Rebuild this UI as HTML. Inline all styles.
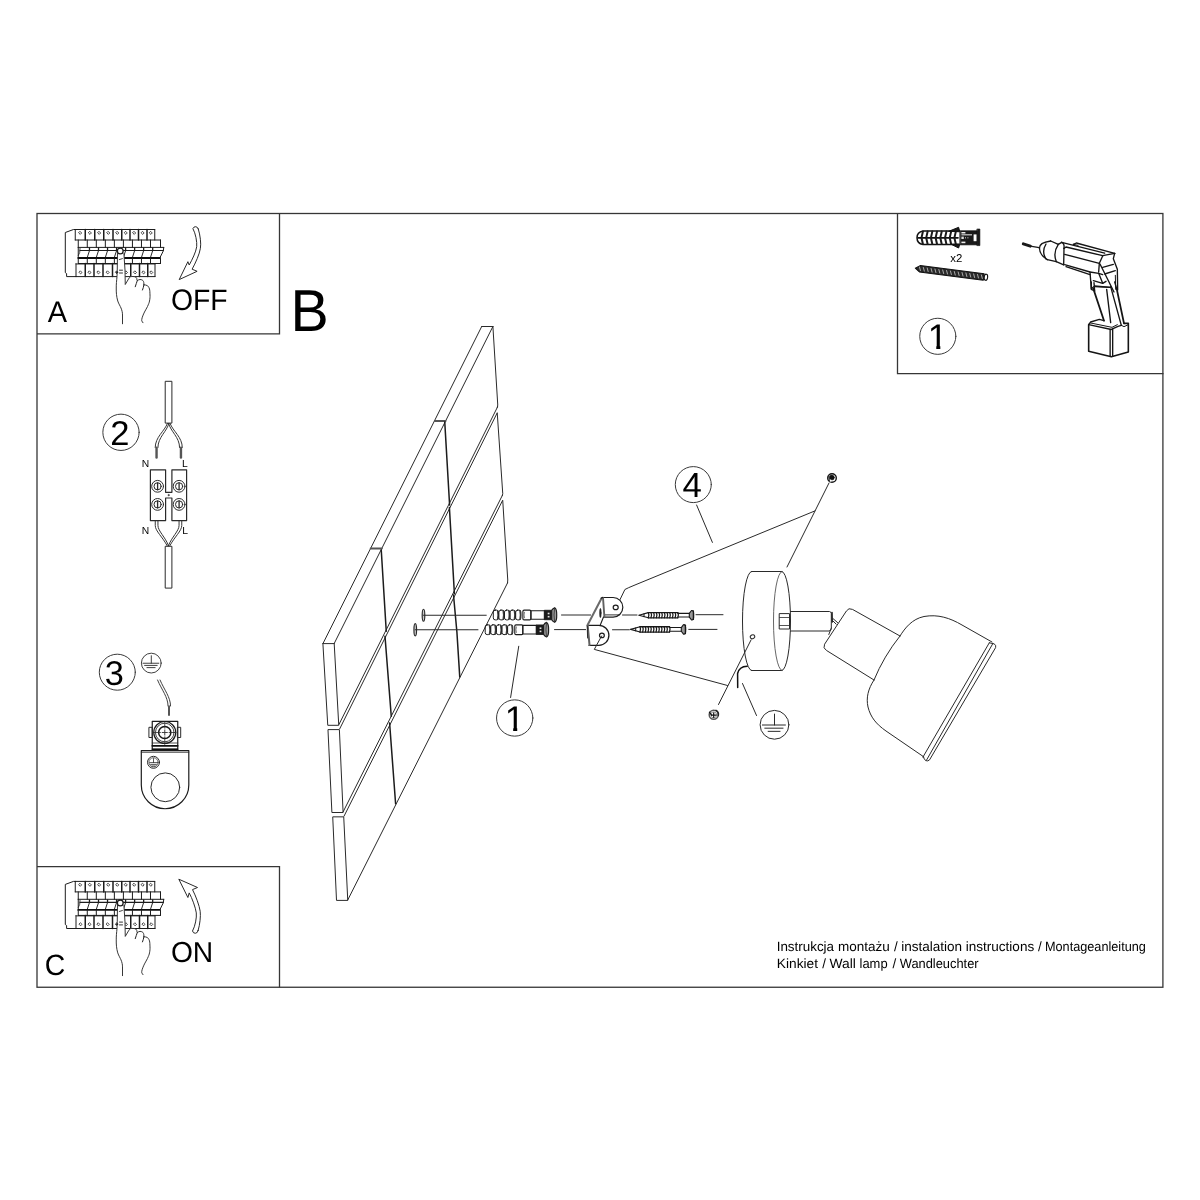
<!DOCTYPE html>
<html lang="pl">
<head>
<meta charset="utf-8">
<title>Instrukcja montażu / instalation instructions / Montageanleitung</title>
<style>
html,body{margin:0;padding:0;background:#fff;}
body{width:1200px;height:1200px;overflow:hidden;}
svg{display:block;filter:grayscale(1);}
svg text{font-family:"Liberation Sans",Arial,Helvetica,sans-serif;text-rendering:geometricPrecision;}
</style>
</head>
<body>
<svg width="1200" height="1200" viewBox="0 0 1200 1200" fill="none" stroke="#2a2a2a" stroke-width="1" stroke-linecap="round" stroke-linejoin="round">
<rect x="0" y="0" width="1200" height="1200" fill="#fff" stroke="none"/>
<g id="frame" stroke="#363636" stroke-width="1.3" stroke-linecap="butt" stroke-linejoin="miter">
<rect x="37.00" y="213.50" width="1125.90" height="773.75"/>
<polyline points="279.50,213.50 279.50,333.90 37.00,333.90"/>
<polyline points="37.00,866.60 279.50,866.60 279.50,987.25"/>
<polyline points="897.50,213.50 897.50,373.60 1163.50,373.60"/>
</g>
<g id="labels" stroke="none" fill="#000">
<text transform="translate(47.75,321.70) scale(0.972,1)" font-size="29.8">A</text>
<text transform="translate(170.95,309.80) scale(0.958,1)" font-size="29.6">OFF</text>
<text transform="translate(290.55,330.70) scale(0.968,1)" font-size="59.2">B</text>
<text transform="translate(44.80,974.70) scale(0.97,1)" font-size="29.3">C</text>
<text transform="translate(170.90,961.75) scale(0.977,1)" font-size="28.9">ON</text>
<text x="145.50" y="467.10" font-size="10.3" text-anchor="middle">N</text>
<text x="184.90" y="467.30" font-size="10.3" text-anchor="middle">L</text>
<text x="145.50" y="533.80" font-size="10.3" text-anchor="middle">N</text>
<text x="185.00" y="533.80" font-size="10.3" text-anchor="middle">L</text>
<text x="950.20" y="262.30" font-size="11.4">x2</text>
<text y="951.3" font-size="13.4"><tspan x="776.66" textLength="57.37" lengthAdjust="spacingAndGlyphs">Instrukcja</tspan> <tspan x="838.09" textLength="51.80" lengthAdjust="spacingAndGlyphs">montażu</tspan> <tspan x="893.94">/</tspan> <tspan x="901.19" textLength="60.95" lengthAdjust="spacingAndGlyphs">instalation</tspan> <tspan x="965.79" textLength="68.39" lengthAdjust="spacingAndGlyphs">instructions</tspan> <tspan x="1038.04">/</tspan> <tspan x="1044.95" textLength="100.95" lengthAdjust="spacingAndGlyphs">Montageanleitung</tspan></text>
<text y="968.3" font-size="13.4"><tspan x="776.87" textLength="41.16" lengthAdjust="spacingAndGlyphs">Kinkiet</tspan> <tspan x="822.14">/</tspan> <tspan x="829.53" textLength="26.40" lengthAdjust="spacingAndGlyphs">Wall</tspan> <tspan x="859.53" textLength="28.09" lengthAdjust="spacingAndGlyphs">lamp</tspan> <tspan x="892.54">/</tspan> <tspan x="899.74" textLength="78.86" lengthAdjust="spacingAndGlyphs">Wandleuchter</tspan></text>
</g>
<g id="cnums">
<circle cx="937.80" cy="336.30" r="18.05" stroke="#3a3a3a"/>
<clipPath id="k1"><path d="M925.78,318.90 H949.78 V346.00 H940.33 V349.90 H936.27 V346.00 H925.78 Z"/></clipPath>
<text x="927.78" y="348.90" font-size="35.6" stroke="none" fill="#000" clip-path="url(#k1)">1</text>
<circle cx="121.00" cy="432.30" r="18.15" stroke="#3a3a3a"/>
<text x="119.95" y="444.70" font-size="34.5" text-anchor="middle" stroke="none" fill="#000">2</text>
<circle cx="117.30" cy="672.20" r="18.00" stroke="#3a3a3a"/>
<text x="114.20" y="684.80" font-size="34.4" text-anchor="middle" stroke="none" fill="#000">3</text>
<circle cx="693.30" cy="484.60" r="18.00" stroke="#3a3a3a"/>
<text x="692.20" y="497.10" font-size="34.8" text-anchor="middle" stroke="none" fill="#000">4</text>
<circle cx="514.70" cy="718.00" r="18.15" stroke="#3a3a3a"/>
<clipPath id="k2"><path d="M502.68,700.60 H526.68 V727.70 H517.23 V731.60 H513.17 V727.70 H502.68 Z"/></clipPath>
<text x="504.68" y="730.60" font-size="35.6" stroke="none" fill="#000" clip-path="url(#k2)">1</text>
</g>
<g id="wall">
<line x1="481.70" y1="326.50" x2="323.00" y2="643.50"/>
<line x1="492.90" y1="326.50" x2="334.20" y2="643.50"/>
<line x1="481.70" y1="326.50" x2="492.90" y2="326.50"/>
<line x1="323.00" y1="643.60" x2="334.20" y2="643.60"/>
<line x1="434.90" y1="421.00" x2="445.40" y2="421.00" stroke-width="2.2" stroke="#555"/>
<line x1="370.80" y1="548.50" x2="381.70" y2="548.50" stroke-width="2.2" stroke="#555"/>
<polyline points="492.90,326.50 497.75,405.00 497.30,407.40"/>
<polyline points="497.25,413.10 502.75,493.75 502.30,495.70"/>
<polyline points="502.75,500.60 507.75,580.00 507.50,583.00"/>
<line x1="497.50" y1="407.00" x2="339.00" y2="724.40"/>
<line x1="497.10" y1="413.10" x2="339.75" y2="728.75"/>
<line x1="502.30" y1="495.50" x2="343.10" y2="811.90"/>
<line x1="502.50" y1="500.60" x2="344.00" y2="816.25"/>
<line x1="507.50" y1="583.00" x2="347.75" y2="900.00"/>
<polyline points="322.90,643.60 327.75,725.30 338.75,725.30 334.20,643.60"/>
<polygon points="328.00,730.00 331.90,812.50 343.10,812.50 339.40,730.00"/>
<polygon points="332.75,817.25 336.50,900.40 347.75,900.40 343.75,817.25"/>
<line x1="444.75" y1="421.90" x2="449.60" y2="505.00" stroke-width="1.5" stroke="#1c1c1c"/>
<line x1="449.40" y1="507.50" x2="454.40" y2="593.75" stroke-width="1.5" stroke="#1c1c1c"/>
<polyline points="453.50,595.00 456.90,632.00 459.75,676.90" stroke-width="1.5" stroke="#1c1c1c"/>
<line x1="381.25" y1="550.00" x2="386.25" y2="631.25" stroke-width="1.5" stroke="#1c1c1c"/>
<line x1="385.00" y1="636.25" x2="391.25" y2="716.25" stroke-width="1.5" stroke="#1c1c1c"/>
<line x1="389.60" y1="723.00" x2="395.60" y2="803.75" stroke-width="1.5" stroke="#1c1c1c"/>
</g>
<g id="fixings">
<ellipse cx="423.50" cy="615.25" rx="1.30" ry="6.00" stroke-width="1.2" fill="#ccc"/>
<line x1="423.50" y1="615.25" x2="486.25" y2="615.25"/>
<ellipse cx="415.25" cy="629.75" rx="1.30" ry="6.20" stroke-width="1.2" fill="#ccc"/>
<line x1="415.25" y1="629.75" x2="478.00" y2="629.75"/>
<rect x="493.30" y="610.10" width="5.20" height="9.80" rx="2" stroke="#1c1c1c"/>
<path d="M497.60,610.70 Q498.60,615.00 497.60,619.30" stroke-width="1.5" stroke="#3a3a3a"/>
<rect x="498.90" y="610.10" width="5.20" height="9.80" rx="2" stroke="#1c1c1c"/>
<path d="M503.20,610.70 Q504.20,615.00 503.20,619.30" stroke-width="1.5" stroke="#3a3a3a"/>
<rect x="504.50" y="610.10" width="5.20" height="9.80" rx="2" stroke="#1c1c1c"/>
<path d="M508.80,610.70 Q509.80,615.00 508.80,619.30" stroke-width="1.5" stroke="#3a3a3a"/>
<rect x="510.10" y="610.10" width="5.20" height="9.80" rx="2" stroke="#1c1c1c"/>
<path d="M514.40,610.70 Q515.40,615.00 514.40,619.30" stroke-width="1.5" stroke="#3a3a3a"/>
<rect x="515.70" y="610.10" width="5.20" height="9.80" rx="2" stroke="#1c1c1c"/>
<path d="M520.00,610.70 Q521.00,615.00 520.00,619.30" stroke-width="1.5" stroke="#3a3a3a"/>
<rect x="522.90" y="610.10" width="8.00" height="9.80" rx="1.2" stroke-width="1.15" stroke="#1c1c1c"/>
<path d="M524.50,612.20 q-1.0,2.8 0,5.6" stroke-width="0.8" stroke="#666"/>
<rect x="530.90" y="610.70" width="13.80" height="8.60" stroke-width="1.1" stroke="#1c1c1c"/>
<rect x="544.70" y="610.30" width="7.00" height="9.40" fill="#1a1a1a" stroke="#1c1c1c"/>
<rect x="547.70" y="612.70" width="1.80" height="1.60" stroke-width="0" fill="#e0e0e0" stroke="none"/>
<rect x="547.70" y="615.90" width="1.80" height="1.60" stroke-width="0" fill="#e0e0e0" stroke="none"/>
<path d="M551.70,610.30 Q552.90,608.40 554.70,607.70 Q556.90,609.00 556.70,615.00 Q556.90,621.00 554.70,622.30 Q552.90,621.60 551.70,619.70 Z" stroke-width="1.2" stroke="#1c1c1c" fill="#9a9a9a"/>
<path d="M554.50,608.40 Q553.50,615.00 554.50,621.60" stroke-width="0.9" stroke="#333"/>
<rect x="485.20" y="624.80" width="5.20" height="9.80" rx="2" stroke="#1c1c1c"/>
<path d="M489.50,625.40 Q490.50,629.70 489.50,634.00" stroke-width="1.5" stroke="#3a3a3a"/>
<rect x="490.80" y="624.80" width="5.20" height="9.80" rx="2" stroke="#1c1c1c"/>
<path d="M495.10,625.40 Q496.10,629.70 495.10,634.00" stroke-width="1.5" stroke="#3a3a3a"/>
<rect x="496.40" y="624.80" width="5.20" height="9.80" rx="2" stroke="#1c1c1c"/>
<path d="M500.70,625.40 Q501.70,629.70 500.70,634.00" stroke-width="1.5" stroke="#3a3a3a"/>
<rect x="502.00" y="624.80" width="5.20" height="9.80" rx="2" stroke="#1c1c1c"/>
<path d="M506.30,625.40 Q507.30,629.70 506.30,634.00" stroke-width="1.5" stroke="#3a3a3a"/>
<rect x="507.60" y="624.80" width="5.20" height="9.80" rx="2" stroke="#1c1c1c"/>
<path d="M511.90,625.40 Q512.90,629.70 511.90,634.00" stroke-width="1.5" stroke="#3a3a3a"/>
<rect x="514.80" y="624.80" width="8.00" height="9.80" rx="1.2" stroke-width="1.15" stroke="#1c1c1c"/>
<path d="M516.40,626.90 q-1.0,2.8 0,5.6" stroke-width="0.8" stroke="#666"/>
<rect x="522.80" y="625.40" width="13.80" height="8.60" stroke-width="1.1" stroke="#1c1c1c"/>
<rect x="536.60" y="625.00" width="7.00" height="9.40" fill="#1a1a1a" stroke="#1c1c1c"/>
<rect x="539.60" y="627.40" width="1.80" height="1.60" stroke-width="0" fill="#e0e0e0" stroke="none"/>
<rect x="539.60" y="630.60" width="1.80" height="1.60" stroke-width="0" fill="#e0e0e0" stroke="none"/>
<path d="M543.60,625.00 Q544.80,623.10 546.60,622.40 Q548.80,623.70 548.60,629.70 Q548.80,635.70 546.60,637.00 Q544.80,636.30 543.60,634.40 Z" stroke-width="1.2" stroke="#1c1c1c" fill="#9a9a9a"/>
<path d="M546.40,623.10 Q545.40,629.70 546.40,636.30" stroke-width="0.9" stroke="#333"/>
<line x1="561.50" y1="615.00" x2="590.60" y2="615.00"/>
<line x1="622.50" y1="615.00" x2="637.00" y2="615.00"/>
<line x1="696.00" y1="614.70" x2="723.00" y2="614.70"/>
<line x1="554.50" y1="629.60" x2="585.60" y2="629.60"/>
<line x1="612.50" y1="629.75" x2="629.40" y2="629.75"/>
<line x1="688.75" y1="629.40" x2="717.00" y2="629.40"/>
</g>
<g id="bracket">
<path d="M602.6,597.5 L613.1,597.5 A9.75,9.8 0 0 1 613.1,617.1 L604.4,617.1" stroke-width="1.2" stroke="#1c1c1c"/>
<line x1="605.00" y1="614.90" x2="619.40" y2="614.90" stroke-width="0.9" stroke="#1c1c1c"/>
<line x1="603.00" y1="597.80" x2="604.40" y2="616.80" stroke-width="1.9" stroke="#606060"/>
<ellipse cx="615.70" cy="607.40" rx="2.50" ry="2.20" stroke-width="1.2" stroke="#1c1c1c"/>
<path d="M587.4,625.3 L598.9,625.3 A10,10 0 0 1 598.9,645.3 L589.0,645.3" stroke-width="1.3" stroke="#1c1c1c"/>
<line x1="587.70" y1="625.60" x2="589.50" y2="645.00" stroke-width="2.0" stroke="#606060"/>
<line x1="587.20" y1="625.30" x2="587.60" y2="638.00" stroke-width="0.9" stroke="#1c1c1c"/>
<ellipse cx="601.90" cy="635.40" rx="2.40" ry="2.20" stroke-width="1.2" stroke="#1c1c1c"/>
<line x1="601.70" y1="598.00" x2="587.70" y2="624.80" stroke-width="2.0" stroke="#6a6a6a"/>
<line x1="602.60" y1="597.50" x2="601.20" y2="598.20" stroke-width="1.2" stroke="#1c1c1c"/>
<line x1="603.50" y1="617.00" x2="600.20" y2="625.20" stroke-width="1.1" stroke="#1c1c1c"/>
<ellipse cx="600.40" cy="613.00" rx="0.75" ry="4.60" stroke-width="0.6" fill="#222" stroke="#222"/>
</g>
<g id="screws">
<polyline points="639.00,615.20 648.30,612.60" stroke-width="1.1" stroke="#181818"/>
<polyline points="639.00,615.20 648.30,617.80" stroke-width="1.1" stroke="#181818"/>
<line x1="644.00" y1="613.70" x2="644.00" y2="616.70" stroke="#181818"/>
<line x1="648.30" y1="612.55" x2="677.80" y2="612.55" stroke-width="1.35" stroke="#181818"/>
<line x1="648.30" y1="617.85" x2="677.80" y2="617.85" stroke-width="1.35" stroke="#181818"/>
<path d="M648.30,612.60 Q649.50,615.20 648.30,617.80" stroke-width="1.25" stroke="#181818"/>
<path d="M650.98,612.60 Q652.18,615.20 650.98,617.80" stroke-width="1.25" stroke="#181818"/>
<path d="M653.66,612.60 Q654.86,615.20 653.66,617.80" stroke-width="1.25" stroke="#181818"/>
<path d="M656.35,612.60 Q657.55,615.20 656.35,617.80" stroke-width="1.25" stroke="#181818"/>
<path d="M659.03,612.60 Q660.23,615.20 659.03,617.80" stroke-width="1.25" stroke="#181818"/>
<path d="M661.71,612.60 Q662.91,615.20 661.71,617.80" stroke-width="1.25" stroke="#181818"/>
<path d="M664.39,612.60 Q665.59,615.20 664.39,617.80" stroke-width="1.25" stroke="#181818"/>
<path d="M667.07,612.60 Q668.27,615.20 667.07,617.80" stroke-width="1.25" stroke="#181818"/>
<path d="M669.75,612.60 Q670.95,615.20 669.75,617.80" stroke-width="1.25" stroke="#181818"/>
<path d="M672.44,612.60 Q673.64,615.20 672.44,617.80" stroke-width="1.25" stroke="#181818"/>
<path d="M675.12,612.60 Q676.32,615.20 675.12,617.80" stroke-width="1.25" stroke="#181818"/>
<path d="M677.80,612.60 Q679.00,615.20 677.80,617.80" stroke-width="1.25" stroke="#181818"/>
<line x1="677.80" y1="613.35" x2="689.30" y2="613.35" stroke-width="1.1" stroke="#181818"/>
<line x1="677.80" y1="617.05" x2="689.30" y2="617.05" stroke-width="1.1" stroke="#181818"/>
<path d="M689.30,613.35 L691.50,610.50 Q694.00,610.00 693.70,615.20 Q694.00,620.40 691.50,619.90 L689.30,617.05 Z" stroke-width="1.1" stroke="#181818" fill="#999"/>
<line x1="693.40" y1="611.00" x2="693.40" y2="619.40" stroke-width="1.3" stroke="#181818"/>
<polyline points="630.70,629.40 640.00,626.80" stroke-width="1.1" stroke="#181818"/>
<polyline points="630.70,629.40 640.00,632.00" stroke-width="1.1" stroke="#181818"/>
<line x1="635.70" y1="627.90" x2="635.70" y2="630.90" stroke="#181818"/>
<line x1="640.00" y1="626.75" x2="669.50" y2="626.75" stroke-width="1.35" stroke="#181818"/>
<line x1="640.00" y1="632.05" x2="669.50" y2="632.05" stroke-width="1.35" stroke="#181818"/>
<path d="M640.00,626.80 Q641.20,629.40 640.00,632.00" stroke-width="1.25" stroke="#181818"/>
<path d="M642.68,626.80 Q643.88,629.40 642.68,632.00" stroke-width="1.25" stroke="#181818"/>
<path d="M645.36,626.80 Q646.56,629.40 645.36,632.00" stroke-width="1.25" stroke="#181818"/>
<path d="M648.05,626.80 Q649.25,629.40 648.05,632.00" stroke-width="1.25" stroke="#181818"/>
<path d="M650.73,626.80 Q651.93,629.40 650.73,632.00" stroke-width="1.25" stroke="#181818"/>
<path d="M653.41,626.80 Q654.61,629.40 653.41,632.00" stroke-width="1.25" stroke="#181818"/>
<path d="M656.09,626.80 Q657.29,629.40 656.09,632.00" stroke-width="1.25" stroke="#181818"/>
<path d="M658.77,626.80 Q659.97,629.40 658.77,632.00" stroke-width="1.25" stroke="#181818"/>
<path d="M661.45,626.80 Q662.65,629.40 661.45,632.00" stroke-width="1.25" stroke="#181818"/>
<path d="M664.14,626.80 Q665.34,629.40 664.14,632.00" stroke-width="1.25" stroke="#181818"/>
<path d="M666.82,626.80 Q668.02,629.40 666.82,632.00" stroke-width="1.25" stroke="#181818"/>
<path d="M669.50,626.80 Q670.70,629.40 669.50,632.00" stroke-width="1.25" stroke="#181818"/>
<line x1="669.50" y1="627.55" x2="681.30" y2="627.55" stroke-width="1.1" stroke="#181818"/>
<line x1="669.50" y1="631.25" x2="681.30" y2="631.25" stroke-width="1.1" stroke="#181818"/>
<path d="M681.30,627.55 L683.50,624.70 Q686.00,624.20 685.70,629.40 Q686.00,634.60 683.50,634.10 L681.30,631.25 Z" stroke-width="1.1" stroke="#181818" fill="#999"/>
<line x1="685.40" y1="625.20" x2="685.40" y2="633.60" stroke-width="1.3" stroke="#181818"/>
</g>
<g id="leaders">
<line x1="696.60" y1="505.00" x2="712.40" y2="542.40"/>
<line x1="829.00" y1="483.00" x2="787.00" y2="567.00"/>
<path d="M815.2,510.8 L634.0,585.4 Q628.0,587.8 624.9,589.5 L620.0,599.6"/>
<path d="M601.6,636.0 L594.3,649.4 L727.5,685.5"/>
<line x1="751.00" y1="640.00" x2="718.50" y2="704.50"/>
<line x1="518.75" y1="646.25" x2="510.60" y2="697.50"/>
<line x1="742.50" y1="683.50" x2="756.50" y2="715.50"/>
</g>
<g id="xscrews">
<circle cx="832.00" cy="478.00" r="4.30" stroke-width="1.4" fill="#fff" stroke="#151515"/>
<circle cx="831.80" cy="477.60" r="2.50" stroke-width="0.5" fill="#111" stroke="#111"/>
<circle cx="830.40" cy="480.60" r="1.20" stroke-width="0" fill="#fff" stroke="none"/>
<path d="M828.6,475.4 L829.6,481.4" stroke-width="0.9" stroke="#222"/>
<circle cx="713.70" cy="714.70" r="4.50" stroke-width="1.5" fill="#fff" stroke="#555"/>
<circle cx="713.70" cy="714.90" r="3.00" stroke-width="0.8" fill="#fff" stroke="#777"/>
<path d="M716.0,710.4 A4.6,4.6 0 0 1 718.3,715.5" stroke-width="1.5" stroke="#222"/>
<line x1="711.60" y1="715.20" x2="715.80" y2="715.20" stroke-width="1.2" stroke="#111"/>
<line x1="713.70" y1="712.90" x2="713.70" y2="717.40" stroke-width="1.2" stroke="#111"/>
<line x1="709.40" y1="712.20" x2="711.60" y2="715.20" stroke-width="1.2" stroke="#111"/>
</g>
<g id="canopy">
<path d="M751.5,571.5 A9.0,49.5 0 0 0 751.5,670.5"/>
<line x1="751.50" y1="571.50" x2="782.00" y2="571.50"/>
<line x1="751.50" y1="670.50" x2="782.00" y2="670.50"/>
<path d="M782.0,571.5 A8.5,49.5 0 0 1 782.0,670.5"/>
<path d="M782.0,571.5 A8.5,49.5 0 0 0 782.0,670.5" stroke-width="0.9" stroke="#555"/>
<ellipse cx="752.50" cy="636.80" rx="2.30" ry="1.90" transform="rotate(-25 752.5 636.8)"/>
<rect x="779.60" y="613.60" width="9.90" height="15.40"/>
<line x1="779.60" y1="617.50" x2="789.50" y2="617.50" stroke-width="0.8"/>
<line x1="779.60" y1="625.50" x2="789.50" y2="625.50" stroke-width="0.8"/>
<path d="M790.4,611.5 L829.5,611.5 Q831.2,611.8 831.3,613.5 L831.3,628.5 Q831.2,630.8 829.0,631.0 L790.4,631.0"/>
<line x1="832.00" y1="612.50" x2="832.20" y2="622.00" stroke-width="1.6" stroke="#222"/>
<path d="M832.0,620.0 L836.2,624.2"/>
<path d="M833.0,618.6 L837.6,622.6"/>
<path d="M831.3,628.0 L828.8,634.5"/>
<path d="M747.2,666.2 Q739.0,666.5 737.6,673.5 L737.7,687.5" stroke-width="1.5" stroke="#111"/>
</g>
<g id="earth">
<circle cx="774.50" cy="724.80" r="14.40"/>
<line x1="774.50" y1="714.07" x2="774.50" y2="725.00"/>
<line x1="762.38" y1="725.00" x2="785.42" y2="725.00"/>
<line x1="764.77" y1="728.18" x2="783.04" y2="728.18"/>
<line x1="768.14" y1="731.35" x2="780.06" y2="731.35"/>
</g>
<g id="shade">
<path d="M900.0,636.0 L852.5,609.4 Q848.6,607.3 846.4,611.0 L824.6,644.2 Q822.6,648.2 826.4,650.4 L874.0,680.0"/>
<path d="M900.0,636.0 C905.0,628.0 912.0,619.0 924.0,616.5 C938.0,614.0 950.0,618.0 962.0,625.0 L992.0,642.0"/>
<path d="M874.0,680.0 C868.0,689.0 866.0,698.0 868.0,707.0 C870.5,717.0 876.0,724.0 886.0,731.0 L924.0,757.0"/>
<path d="M900.0,636.0 Q883.8,656.2 874.0,680.0"/>
<line x1="989.30" y1="642.80" x2="923.00" y2="757.00"/>
<line x1="992.60" y1="644.00" x2="926.60" y2="760.00"/>
<path d="M989.3,642.8 L994.0,643.8 Q996.6,645.0 995.6,647.6 L929.6,759.8 Q928.0,761.6 925.6,760.6 L923.0,757.0"/>
</g>
<g id="item2">
<rect x="165.60" y="381.30" width="6.30" height="41.80"/>
<path d="M167.47,423.40 C164.40,431.5 155.20,437 155.20,447.5" stroke-width="0.95"/>
<path d="M168.83,423.40 C167.10,431.5 157.90,437 157.90,447.5" stroke-width="0.95"/>
<line x1="156.55" y1="447.80" x2="156.55" y2="457.60" stroke-width="2.4" stroke="#555"/>
<path d="M168.67,423.40 C170.40,431.5 179.60,437 179.60,447.5" stroke-width="0.95"/>
<path d="M170.03,423.40 C173.10,431.5 182.30,437 182.30,447.5" stroke-width="0.95"/>
<line x1="180.95" y1="447.80" x2="180.95" y2="457.60" stroke-width="2.4" stroke="#555"/>
<path d="M150.4,469.8 L165.6,469.8 L165.6,492.3 L171.9,492.3 L171.9,469.8 L186.6,469.8 L186.6,520.6 L171.9,520.6 L171.9,498.0 L165.6,498.0 L165.6,520.6 L150.4,520.6 Z" stroke-width="1.2"/>
<circle cx="157.60" cy="486.30" r="5.90"/>
<circle cx="157.60" cy="486.30" r="3.60"/>
<line x1="157.60" y1="482.90" x2="157.60" y2="489.70" stroke-width="1.3"/>
<circle cx="157.60" cy="504.40" r="5.90"/>
<circle cx="157.60" cy="504.40" r="3.60"/>
<line x1="157.60" y1="501.00" x2="157.60" y2="507.80" stroke-width="1.3"/>
<circle cx="179.10" cy="486.30" r="5.90"/>
<circle cx="179.10" cy="486.30" r="3.60"/>
<line x1="179.10" y1="482.90" x2="179.10" y2="489.70" stroke-width="1.3"/>
<circle cx="179.10" cy="504.40" r="5.90"/>
<circle cx="179.10" cy="504.40" r="3.60"/>
<line x1="179.10" y1="501.00" x2="179.10" y2="507.80" stroke-width="1.3"/>
<circle cx="168.60" cy="495.10" r="0.70" stroke-width="0.5" fill="#222"/>
<path d="M155.25,521.0 L155.25,525.5 C155.25,531 162.65,537 167.22,545.8" stroke-width="0.95"/>
<path d="M157.95,521.0 L157.95,525.5 C157.95,531 165.35,537 168.58,545.8" stroke-width="0.95"/>
<path d="M179.05,521.0 L179.05,525.5 C179.05,531 171.65,537 168.42,545.8" stroke-width="0.95"/>
<path d="M181.75,521.0 L181.75,525.5 C181.75,531 174.35,537 169.78,545.8" stroke-width="0.95"/>
<rect x="165.60" y="546.30" width="6.30" height="41.80"/>
</g>
<g id="item3">
<circle cx="151.30" cy="663.10" r="9.90" stroke-width="0.9"/>
<line x1="151.30" y1="655.73" x2="151.30" y2="663.24" stroke-width="0.9"/>
<line x1="142.97" y1="663.24" x2="158.81" y2="663.24" stroke-width="0.9"/>
<line x1="144.61" y1="665.42" x2="157.17" y2="665.42" stroke-width="0.9"/>
<line x1="146.93" y1="667.61" x2="155.12" y2="667.61" stroke-width="0.9"/>
<path d="M157.55,680.0 C161.75,690 168.05,697 168.05,706.0" stroke-width="0.9"/>
<path d="M160.05,680.0 C164.25,690 170.55,697 170.55,706.0" stroke-width="0.9"/>
<line x1="169.00" y1="706.30" x2="169.00" y2="715.00" stroke-width="2.0" stroke="#555"/>
<rect x="152.25" y="721.30" width="25.50" height="28.00" stroke-width="1.2" stroke="#1c1c1c"/>
<rect x="149.30" y="727.30" width="2.95" height="10.20"/>
<rect x="177.75" y="727.30" width="2.95" height="10.20"/>
<circle cx="164.75" cy="732.50" r="11.00" stroke-width="1.2" stroke="#1c1c1c"/>
<circle cx="164.75" cy="732.50" r="9.30" stroke-width="0.9"/>
<circle cx="164.75" cy="732.50" r="6.10" stroke-width="1.5" stroke="#151515"/>
<line x1="164.75" y1="721.50" x2="164.75" y2="744.50" stroke-width="0.8"/>
<line x1="153.50" y1="732.50" x2="176.00" y2="732.50" stroke-width="0.8"/>
<line x1="164.75" y1="729.60" x2="164.75" y2="735.40" stroke-width="2.2" stroke="#fff"/>
<line x1="161.85" y1="732.50" x2="167.65" y2="732.50" stroke-width="2.2" stroke="#fff"/>
<line x1="164.75" y1="729.90" x2="164.75" y2="735.10" stroke-width="0.9" stroke="#333"/>
<line x1="162.15" y1="732.50" x2="167.35" y2="732.50" stroke-width="0.9" stroke="#333"/>
<line x1="152.25" y1="743.00" x2="177.75" y2="743.00" stroke-width="0.8"/>
<line x1="152.25" y1="745.80" x2="177.75" y2="745.80" stroke-width="1.7" stroke="#0f0f0f"/>
<line x1="152.25" y1="749.20" x2="177.75" y2="749.20" stroke-width="1.5" stroke="#0f0f0f"/>
<path d="M141.3,750.6 L188.8,750.6 L188.8,785.0 A23.75,23.75 0 0 1 141.3,785.0 Z" stroke-width="1.2" stroke="#1c1c1c"/>
<line x1="141.30" y1="752.30" x2="188.80" y2="752.30" stroke-width="0.8"/>
<circle cx="165.30" cy="787.30" r="14.40"/>
<circle cx="153.50" cy="762.30" r="6.00"/>
<circle cx="153.50" cy="762.30" r="4.60" stroke-width="0.7"/>
<line x1="153.50" y1="758.50" x2="153.50" y2="762.60" stroke-width="0.8"/>
<line x1="149.60" y1="762.60" x2="157.40" y2="762.60" stroke-width="0.8"/>
<line x1="150.60" y1="764.40" x2="156.40" y2="764.40" stroke-width="0.8"/>
<line x1="151.80" y1="766.00" x2="155.20" y2="766.00" stroke-width="0.8"/>
</g>
<g id="panelA">
<path d="M75.25,229.50 L73.5,229.50 L65.3,232.50 L65.3,272.60 L66.6,273.60 L66.6,276.60 L76.0,276.60" stroke="#1c1c1c"/>
<line x1="75.25" y1="229.50" x2="154.75" y2="229.50" stroke="#1c1c1c"/>
<line x1="75.25" y1="240.00" x2="160.50" y2="240.00" stroke="#1c1c1c"/>
<line x1="75.25" y1="229.50" x2="75.25" y2="240.00" stroke="#1c1c1c"/>
<line x1="85.25" y1="229.50" x2="85.25" y2="240.00" stroke-width="1.5" stroke="#1c1c1c"/>
<line x1="94.75" y1="229.50" x2="94.75" y2="240.00" stroke-width="1.5" stroke="#1c1c1c"/>
<line x1="103.75" y1="229.50" x2="103.75" y2="240.00" stroke-width="1.5" stroke="#1c1c1c"/>
<line x1="113.00" y1="229.50" x2="113.00" y2="240.00" stroke-width="1.5" stroke="#1c1c1c"/>
<line x1="121.75" y1="229.50" x2="121.75" y2="240.00" stroke-width="1.5" stroke="#1c1c1c"/>
<line x1="130.00" y1="229.50" x2="130.00" y2="240.00" stroke-width="1.5" stroke="#1c1c1c"/>
<line x1="138.50" y1="229.50" x2="138.50" y2="240.00" stroke-width="1.5" stroke="#1c1c1c"/>
<line x1="147.00" y1="229.50" x2="147.00" y2="240.00" stroke-width="1.5" stroke="#1c1c1c"/>
<line x1="154.75" y1="229.50" x2="154.75" y2="240.00" stroke="#1c1c1c"/>
<polygon points="80.25,231.60 81.65,233.00 80.25,234.40 78.85,233.00" stroke-width="0.8" stroke="#1c1c1c"/>
<polygon points="90.00,231.60 91.40,233.00 90.00,234.40 88.60,233.00" stroke-width="0.8" stroke="#1c1c1c"/>
<polygon points="99.25,231.60 100.65,233.00 99.25,234.40 97.85,233.00" stroke-width="0.8" stroke="#1c1c1c"/>
<polygon points="108.38,231.60 109.78,233.00 108.38,234.40 106.97,233.00" stroke-width="0.8" stroke="#1c1c1c"/>
<polygon points="117.38,231.60 118.78,233.00 117.38,234.40 115.97,233.00" stroke-width="0.8" stroke="#1c1c1c"/>
<polygon points="125.88,231.60 127.28,233.00 125.88,234.40 124.47,233.00" stroke-width="0.8" stroke="#1c1c1c"/>
<polygon points="134.25,231.60 135.65,233.00 134.25,234.40 132.85,233.00" stroke-width="0.8" stroke="#1c1c1c"/>
<polygon points="142.75,231.60 144.15,233.00 142.75,234.40 141.35,233.00" stroke-width="0.8" stroke="#1c1c1c"/>
<polygon points="150.88,231.60 152.28,233.00 150.88,234.40 149.47,233.00" stroke-width="0.8" stroke="#1c1c1c"/>
<line x1="78.25" y1="240.00" x2="78.25" y2="247.40" stroke="#1c1c1c"/>
<line x1="87.28" y1="240.00" x2="87.28" y2="247.40" stroke="#1c1c1c"/>
<line x1="96.31" y1="240.00" x2="96.31" y2="247.40" stroke="#1c1c1c"/>
<line x1="105.34" y1="240.00" x2="105.34" y2="247.40" stroke="#1c1c1c"/>
<line x1="114.37" y1="240.00" x2="114.37" y2="247.40" stroke="#1c1c1c"/>
<line x1="123.40" y1="240.00" x2="123.40" y2="247.40" stroke="#1c1c1c"/>
<line x1="132.43" y1="240.00" x2="132.43" y2="247.40" stroke="#1c1c1c"/>
<line x1="141.46" y1="240.00" x2="141.46" y2="247.40" stroke="#1c1c1c"/>
<line x1="150.49" y1="240.00" x2="150.49" y2="247.40" stroke="#1c1c1c"/>
<line x1="160.50" y1="240.00" x2="160.50" y2="247.40" stroke="#1c1c1c"/>
<line x1="78.25" y1="247.40" x2="163.75" y2="247.40" stroke="#1c1c1c"/>
<line x1="80.00" y1="250.50" x2="163.30" y2="250.50" stroke-width="1.15" stroke="#1c1c1c"/>
<path d="M78.25,247.40 L78.25,257.60" stroke="#1c1c1c"/>
<path d="M80.0,248.40 L79.7,252.50 L78.3,255.50" stroke-width="0.8" stroke="#1c1c1c"/>
<path d="M163.75,247.40 L163.25,251.00 L160.0,257.60" stroke="#1c1c1c"/>
<line x1="89.48" y1="250.60" x2="87.28" y2="257.40" stroke-width="0.95" stroke="#1c1c1c"/>
<line x1="89.48" y1="248.00" x2="89.48" y2="250.60" stroke-width="1.3" stroke="#1c1c1c"/>
<line x1="98.51" y1="250.60" x2="96.31" y2="257.40" stroke-width="0.95" stroke="#1c1c1c"/>
<line x1="98.51" y1="248.00" x2="98.51" y2="250.60" stroke-width="1.3" stroke="#1c1c1c"/>
<line x1="107.54" y1="250.60" x2="105.34" y2="257.40" stroke-width="0.95" stroke="#1c1c1c"/>
<line x1="107.54" y1="248.00" x2="107.54" y2="250.60" stroke-width="1.3" stroke="#1c1c1c"/>
<line x1="116.57" y1="250.60" x2="114.37" y2="257.40" stroke-width="0.95" stroke="#1c1c1c"/>
<line x1="116.57" y1="248.00" x2="116.57" y2="250.60" stroke-width="1.3" stroke="#1c1c1c"/>
<line x1="125.60" y1="250.60" x2="123.40" y2="257.40" stroke-width="0.95" stroke="#1c1c1c"/>
<line x1="125.60" y1="248.00" x2="125.60" y2="250.60" stroke-width="1.3" stroke="#1c1c1c"/>
<line x1="134.63" y1="250.60" x2="132.43" y2="257.40" stroke-width="0.95" stroke="#1c1c1c"/>
<line x1="134.63" y1="248.00" x2="134.63" y2="250.60" stroke-width="1.3" stroke="#1c1c1c"/>
<line x1="143.66" y1="250.60" x2="141.46" y2="257.40" stroke-width="0.95" stroke="#1c1c1c"/>
<line x1="143.66" y1="248.00" x2="143.66" y2="250.60" stroke-width="1.3" stroke="#1c1c1c"/>
<line x1="152.69" y1="250.60" x2="150.49" y2="257.40" stroke-width="0.95" stroke="#1c1c1c"/>
<line x1="152.69" y1="248.00" x2="152.69" y2="250.60" stroke-width="1.3" stroke="#1c1c1c"/>
<line x1="78.25" y1="258.00" x2="160.00" y2="258.00" stroke-width="1.9" stroke="#0c0c0c"/>
<line x1="78.25" y1="263.50" x2="160.50" y2="263.50" stroke="#1c1c1c"/>
<line x1="78.25" y1="258.60" x2="78.25" y2="263.50" stroke="#1c1c1c"/>
<line x1="87.28" y1="258.60" x2="87.28" y2="263.50" stroke="#1c1c1c"/>
<line x1="96.31" y1="258.60" x2="96.31" y2="263.50" stroke="#1c1c1c"/>
<line x1="105.34" y1="258.60" x2="105.34" y2="263.50" stroke="#1c1c1c"/>
<line x1="114.37" y1="258.60" x2="114.37" y2="263.50" stroke="#1c1c1c"/>
<line x1="123.40" y1="258.60" x2="123.40" y2="263.50" stroke="#1c1c1c"/>
<line x1="132.43" y1="258.60" x2="132.43" y2="263.50" stroke="#1c1c1c"/>
<line x1="141.46" y1="258.60" x2="141.46" y2="263.50" stroke="#1c1c1c"/>
<line x1="150.49" y1="258.60" x2="150.49" y2="263.50" stroke="#1c1c1c"/>
<line x1="160.50" y1="258.60" x2="160.50" y2="263.50" stroke="#1c1c1c"/>
<line x1="76.00" y1="264.00" x2="155.00" y2="264.00" stroke-width="0.9" stroke="#1c1c1c"/>
<line x1="76.00" y1="276.60" x2="155.00" y2="276.60" stroke="#1c1c1c"/>
<line x1="76.00" y1="263.60" x2="76.00" y2="276.60" stroke="#1c1c1c"/>
<line x1="85.25" y1="263.60" x2="85.25" y2="276.60" stroke-width="1.5" stroke="#1c1c1c"/>
<line x1="94.00" y1="263.60" x2="94.00" y2="276.60" stroke-width="1.5" stroke="#1c1c1c"/>
<line x1="103.00" y1="263.60" x2="103.00" y2="276.60" stroke-width="1.5" stroke="#1c1c1c"/>
<line x1="112.50" y1="263.60" x2="112.50" y2="276.60" stroke-width="1.5" stroke="#1c1c1c"/>
<line x1="121.50" y1="263.60" x2="121.50" y2="276.60" stroke-width="1.5" stroke="#1c1c1c"/>
<line x1="130.75" y1="263.60" x2="130.75" y2="276.60" stroke-width="1.5" stroke="#1c1c1c"/>
<line x1="139.50" y1="263.60" x2="139.50" y2="276.60" stroke-width="1.5" stroke="#1c1c1c"/>
<line x1="147.75" y1="263.60" x2="147.75" y2="276.60" stroke-width="1.5" stroke="#1c1c1c"/>
<line x1="155.00" y1="263.60" x2="155.00" y2="276.60" stroke="#1c1c1c"/>
<polygon points="80.62,271.10 82.03,272.50 80.62,273.90 79.22,272.50" stroke-width="0.8" stroke="#1c1c1c"/>
<polygon points="89.62,271.10 91.03,272.50 89.62,273.90 88.22,272.50" stroke-width="0.8" stroke="#1c1c1c"/>
<polygon points="98.50,271.10 99.90,272.50 98.50,273.90 97.10,272.50" stroke-width="0.8" stroke="#1c1c1c"/>
<polygon points="107.75,271.10 109.15,272.50 107.75,273.90 106.35,272.50" stroke-width="0.8" stroke="#1c1c1c"/>
<polygon points="117.00,271.10 118.40,272.50 117.00,273.90 115.60,272.50" stroke-width="0.8" stroke="#1c1c1c"/>
<polygon points="126.12,271.10 127.53,272.50 126.12,273.90 124.72,272.50" stroke-width="0.8" stroke="#1c1c1c"/>
<polygon points="135.12,271.10 136.53,272.50 135.12,273.90 133.72,272.50" stroke-width="0.8" stroke="#1c1c1c"/>
<polygon points="143.62,271.10 145.03,272.50 143.62,273.90 142.22,272.50" stroke-width="0.8" stroke="#1c1c1c"/>
<polygon points="151.38,271.10 152.78,272.50 151.38,273.90 149.97,272.50" stroke-width="0.8" stroke="#1c1c1c"/>
<path d="M117.50,253.60 L117.25,270.00 L117.00,276.50 C116.60,281.00 116.20,284.00 116.25,288.00 C116.20,292.00 116.40,296.50 117.75,301.00 C118.80,304.00 120.20,306.00 121.00,308.00 C122.00,310.50 122.50,312.50 122.50,315.00 L122.50,323.75 L143.00,323.75L143.00,322.75 C142.00,321.50 141.40,320.50 141.75,319.50 C142.00,317.50 143.30,314.50 144.50,312.00 C145.60,309.80 146.60,308.50 147.50,306.50 C148.60,304.00 149.30,302.50 149.50,301.00 C150.00,298.50 150.10,297.00 150.00,295.00 C149.90,292.50 149.90,290.50 149.50,289.00 C148.90,287.00 148.00,285.90 147.00,285.50 C146.00,285.00 145.30,284.90 144.00,285.00 L143.75,282.50 C143.50,281.20 143.20,280.60 142.50,280.25 C141.60,279.60 140.90,279.50 140.00,279.50 C139.00,279.60 138.20,280.00 137.30,280.60 L137.00,280.00 C136.90,278.70 136.70,277.90 136.25,277.50 C135.40,276.80 134.20,276.50 133.00,276.50 C132.00,276.50 131.20,276.60 130.50,276.75 C129.60,277.30 129.00,278.00 128.50,279.00 L125.25,284.50 L125.00,270.00 L123.90,253.60 Z" stroke-width="0" stroke="none" fill="#fff"/>
<path d="M117.50,253.60 L117.25,270.00 L117.00,276.50 C116.60,281.00 116.20,284.00 116.25,288.00 C116.20,292.00 116.40,296.50 117.75,301.00 C118.80,304.00 120.20,306.00 121.00,308.00 C122.00,310.50 122.50,312.50 122.50,315.00 L122.50,323.75" stroke-width="0.95" stroke="#2c2c2c"/>
<path d="M143.00,322.75 C142.00,321.50 141.40,320.50 141.75,319.50 C142.00,317.50 143.30,314.50 144.50,312.00 C145.60,309.80 146.60,308.50 147.50,306.50 C148.60,304.00 149.30,302.50 149.50,301.00 C150.00,298.50 150.10,297.00 150.00,295.00 C149.90,292.50 149.90,290.50 149.50,289.00 C148.90,287.00 148.00,285.90 147.00,285.50 C146.00,285.00 145.30,284.90 144.00,285.00 L143.75,282.50 C143.50,281.20 143.20,280.60 142.50,280.25 C141.60,279.60 140.90,279.50 140.00,279.50 C139.00,279.60 138.20,280.00 137.30,280.60 L137.00,280.00 C136.90,278.70 136.70,277.90 136.25,277.50 C135.40,276.80 134.20,276.50 133.00,276.50 C132.00,276.50 131.20,276.60 130.50,276.75 C129.60,277.30 129.00,278.00 128.50,279.00 L125.25,284.50 L125.00,270.00 L123.90,253.60" stroke-width="0.95" stroke="#2c2c2c"/>
<path d="M137.30,280.60 Q136.30,283.50 135.25,286.75" stroke="#222"/>
<path d="M143.90,284.50 Q143.60,287.50 142.50,290.00" stroke="#222"/>
<line x1="119.30" y1="259.60" x2="122.40" y2="258.60" stroke-width="0.9" stroke="#333"/>
<line x1="119.50" y1="270.20" x2="122.50" y2="270.20" stroke="#333"/>
<line x1="119.50" y1="273.00" x2="122.50" y2="273.00" stroke="#333"/>
<circle cx="117.00" cy="272.30" r="0.80" stroke-width="0.4" fill="#111" stroke="#111"/>
<circle cx="120.25" cy="251.00" r="2.90" stroke-width="1.3" fill="#fff" stroke="#1c1c1c"/>
<path d="M198.3,229.0 C200.3,235.5 201.2,243.5 200.4,248.3 C199.6,254.0 195.5,263.0 192.1,269.2 L197.1,271.3 L179.2,279.6 L187.9,261.7 L189.2,265.0 C192.0,260.0 196.0,252.0 196.7,246.7 C197.2,242.0 195.6,233.5 192.9,228.6 A2.9,3.3 0 0 1 198.3,229.0 Z"/>
</g>
<g id="panelC">
<path d="M75.25,881.40 L73.5,881.40 L65.3,884.40 L65.3,924.50 L66.6,925.50 L66.6,928.50 L76.0,928.50" stroke="#1c1c1c"/>
<line x1="75.25" y1="881.40" x2="154.75" y2="881.40" stroke="#1c1c1c"/>
<line x1="75.25" y1="891.90" x2="160.50" y2="891.90" stroke="#1c1c1c"/>
<line x1="75.25" y1="881.40" x2="75.25" y2="891.90" stroke="#1c1c1c"/>
<line x1="85.25" y1="881.40" x2="85.25" y2="891.90" stroke-width="1.5" stroke="#1c1c1c"/>
<line x1="94.75" y1="881.40" x2="94.75" y2="891.90" stroke-width="1.5" stroke="#1c1c1c"/>
<line x1="103.75" y1="881.40" x2="103.75" y2="891.90" stroke-width="1.5" stroke="#1c1c1c"/>
<line x1="113.00" y1="881.40" x2="113.00" y2="891.90" stroke-width="1.5" stroke="#1c1c1c"/>
<line x1="121.75" y1="881.40" x2="121.75" y2="891.90" stroke-width="1.5" stroke="#1c1c1c"/>
<line x1="130.00" y1="881.40" x2="130.00" y2="891.90" stroke-width="1.5" stroke="#1c1c1c"/>
<line x1="138.50" y1="881.40" x2="138.50" y2="891.90" stroke-width="1.5" stroke="#1c1c1c"/>
<line x1="147.00" y1="881.40" x2="147.00" y2="891.90" stroke-width="1.5" stroke="#1c1c1c"/>
<line x1="154.75" y1="881.40" x2="154.75" y2="891.90" stroke="#1c1c1c"/>
<polygon points="80.25,883.50 81.65,884.90 80.25,886.30 78.85,884.90" stroke-width="0.8" stroke="#1c1c1c"/>
<polygon points="90.00,883.50 91.40,884.90 90.00,886.30 88.60,884.90" stroke-width="0.8" stroke="#1c1c1c"/>
<polygon points="99.25,883.50 100.65,884.90 99.25,886.30 97.85,884.90" stroke-width="0.8" stroke="#1c1c1c"/>
<polygon points="108.38,883.50 109.78,884.90 108.38,886.30 106.97,884.90" stroke-width="0.8" stroke="#1c1c1c"/>
<polygon points="117.38,883.50 118.78,884.90 117.38,886.30 115.97,884.90" stroke-width="0.8" stroke="#1c1c1c"/>
<polygon points="125.88,883.50 127.28,884.90 125.88,886.30 124.47,884.90" stroke-width="0.8" stroke="#1c1c1c"/>
<polygon points="134.25,883.50 135.65,884.90 134.25,886.30 132.85,884.90" stroke-width="0.8" stroke="#1c1c1c"/>
<polygon points="142.75,883.50 144.15,884.90 142.75,886.30 141.35,884.90" stroke-width="0.8" stroke="#1c1c1c"/>
<polygon points="150.88,883.50 152.28,884.90 150.88,886.30 149.47,884.90" stroke-width="0.8" stroke="#1c1c1c"/>
<line x1="78.25" y1="891.90" x2="78.25" y2="899.30" stroke="#1c1c1c"/>
<line x1="87.28" y1="891.90" x2="87.28" y2="899.30" stroke="#1c1c1c"/>
<line x1="96.31" y1="891.90" x2="96.31" y2="899.30" stroke="#1c1c1c"/>
<line x1="105.34" y1="891.90" x2="105.34" y2="899.30" stroke="#1c1c1c"/>
<line x1="114.37" y1="891.90" x2="114.37" y2="899.30" stroke="#1c1c1c"/>
<line x1="123.40" y1="891.90" x2="123.40" y2="899.30" stroke="#1c1c1c"/>
<line x1="132.43" y1="891.90" x2="132.43" y2="899.30" stroke="#1c1c1c"/>
<line x1="141.46" y1="891.90" x2="141.46" y2="899.30" stroke="#1c1c1c"/>
<line x1="150.49" y1="891.90" x2="150.49" y2="899.30" stroke="#1c1c1c"/>
<line x1="160.50" y1="891.90" x2="160.50" y2="899.30" stroke="#1c1c1c"/>
<line x1="78.25" y1="899.30" x2="163.75" y2="899.30" stroke="#1c1c1c"/>
<line x1="80.00" y1="902.40" x2="163.30" y2="902.40" stroke-width="1.15" stroke="#1c1c1c"/>
<path d="M78.25,899.30 L78.25,909.50" stroke="#1c1c1c"/>
<path d="M80.0,900.30 L79.7,904.40 L78.3,907.40" stroke-width="0.8" stroke="#1c1c1c"/>
<path d="M163.75,899.30 L163.25,902.90 L160.0,909.50" stroke="#1c1c1c"/>
<line x1="89.48" y1="902.50" x2="87.28" y2="909.30" stroke-width="0.95" stroke="#1c1c1c"/>
<line x1="89.48" y1="899.90" x2="89.48" y2="902.50" stroke-width="1.3" stroke="#1c1c1c"/>
<line x1="98.51" y1="902.50" x2="96.31" y2="909.30" stroke-width="0.95" stroke="#1c1c1c"/>
<line x1="98.51" y1="899.90" x2="98.51" y2="902.50" stroke-width="1.3" stroke="#1c1c1c"/>
<line x1="107.54" y1="902.50" x2="105.34" y2="909.30" stroke-width="0.95" stroke="#1c1c1c"/>
<line x1="107.54" y1="899.90" x2="107.54" y2="902.50" stroke-width="1.3" stroke="#1c1c1c"/>
<line x1="116.57" y1="902.50" x2="114.37" y2="909.30" stroke-width="0.95" stroke="#1c1c1c"/>
<line x1="116.57" y1="899.90" x2="116.57" y2="902.50" stroke-width="1.3" stroke="#1c1c1c"/>
<line x1="125.60" y1="902.50" x2="123.40" y2="909.30" stroke-width="0.95" stroke="#1c1c1c"/>
<line x1="125.60" y1="899.90" x2="125.60" y2="902.50" stroke-width="1.3" stroke="#1c1c1c"/>
<line x1="134.63" y1="902.50" x2="132.43" y2="909.30" stroke-width="0.95" stroke="#1c1c1c"/>
<line x1="134.63" y1="899.90" x2="134.63" y2="902.50" stroke-width="1.3" stroke="#1c1c1c"/>
<line x1="143.66" y1="902.50" x2="141.46" y2="909.30" stroke-width="0.95" stroke="#1c1c1c"/>
<line x1="143.66" y1="899.90" x2="143.66" y2="902.50" stroke-width="1.3" stroke="#1c1c1c"/>
<line x1="152.69" y1="902.50" x2="150.49" y2="909.30" stroke-width="0.95" stroke="#1c1c1c"/>
<line x1="152.69" y1="899.90" x2="152.69" y2="902.50" stroke-width="1.3" stroke="#1c1c1c"/>
<line x1="78.25" y1="909.90" x2="160.00" y2="909.90" stroke-width="1.9" stroke="#0c0c0c"/>
<line x1="78.25" y1="915.40" x2="160.50" y2="915.40" stroke="#1c1c1c"/>
<line x1="78.25" y1="910.50" x2="78.25" y2="915.40" stroke="#1c1c1c"/>
<line x1="87.28" y1="910.50" x2="87.28" y2="915.40" stroke="#1c1c1c"/>
<line x1="96.31" y1="910.50" x2="96.31" y2="915.40" stroke="#1c1c1c"/>
<line x1="105.34" y1="910.50" x2="105.34" y2="915.40" stroke="#1c1c1c"/>
<line x1="114.37" y1="910.50" x2="114.37" y2="915.40" stroke="#1c1c1c"/>
<line x1="123.40" y1="910.50" x2="123.40" y2="915.40" stroke="#1c1c1c"/>
<line x1="132.43" y1="910.50" x2="132.43" y2="915.40" stroke="#1c1c1c"/>
<line x1="141.46" y1="910.50" x2="141.46" y2="915.40" stroke="#1c1c1c"/>
<line x1="150.49" y1="910.50" x2="150.49" y2="915.40" stroke="#1c1c1c"/>
<line x1="160.50" y1="910.50" x2="160.50" y2="915.40" stroke="#1c1c1c"/>
<line x1="76.00" y1="915.90" x2="155.00" y2="915.90" stroke-width="0.9" stroke="#1c1c1c"/>
<line x1="76.00" y1="928.50" x2="155.00" y2="928.50" stroke="#1c1c1c"/>
<line x1="76.00" y1="915.50" x2="76.00" y2="928.50" stroke="#1c1c1c"/>
<line x1="85.25" y1="915.50" x2="85.25" y2="928.50" stroke-width="1.5" stroke="#1c1c1c"/>
<line x1="94.00" y1="915.50" x2="94.00" y2="928.50" stroke-width="1.5" stroke="#1c1c1c"/>
<line x1="103.00" y1="915.50" x2="103.00" y2="928.50" stroke-width="1.5" stroke="#1c1c1c"/>
<line x1="112.50" y1="915.50" x2="112.50" y2="928.50" stroke-width="1.5" stroke="#1c1c1c"/>
<line x1="121.50" y1="915.50" x2="121.50" y2="928.50" stroke-width="1.5" stroke="#1c1c1c"/>
<line x1="130.75" y1="915.50" x2="130.75" y2="928.50" stroke-width="1.5" stroke="#1c1c1c"/>
<line x1="139.50" y1="915.50" x2="139.50" y2="928.50" stroke-width="1.5" stroke="#1c1c1c"/>
<line x1="147.75" y1="915.50" x2="147.75" y2="928.50" stroke-width="1.5" stroke="#1c1c1c"/>
<line x1="155.00" y1="915.50" x2="155.00" y2="928.50" stroke="#1c1c1c"/>
<polygon points="80.62,923.00 82.03,924.40 80.62,925.80 79.22,924.40" stroke-width="0.8" stroke="#1c1c1c"/>
<polygon points="89.62,923.00 91.03,924.40 89.62,925.80 88.22,924.40" stroke-width="0.8" stroke="#1c1c1c"/>
<polygon points="98.50,923.00 99.90,924.40 98.50,925.80 97.10,924.40" stroke-width="0.8" stroke="#1c1c1c"/>
<polygon points="107.75,923.00 109.15,924.40 107.75,925.80 106.35,924.40" stroke-width="0.8" stroke="#1c1c1c"/>
<polygon points="117.00,923.00 118.40,924.40 117.00,925.80 115.60,924.40" stroke-width="0.8" stroke="#1c1c1c"/>
<polygon points="126.12,923.00 127.53,924.40 126.12,925.80 124.72,924.40" stroke-width="0.8" stroke="#1c1c1c"/>
<polygon points="135.12,923.00 136.53,924.40 135.12,925.80 133.72,924.40" stroke-width="0.8" stroke="#1c1c1c"/>
<polygon points="143.62,923.00 145.03,924.40 143.62,925.80 142.22,924.40" stroke-width="0.8" stroke="#1c1c1c"/>
<polygon points="151.38,923.00 152.78,924.40 151.38,925.80 149.97,924.40" stroke-width="0.8" stroke="#1c1c1c"/>
<path d="M117.50,905.50 L117.25,921.90 L117.00,928.40 C116.60,932.90 116.20,935.90 116.25,939.90 C116.20,943.90 116.40,948.40 117.75,952.90 C118.80,955.90 120.20,957.90 121.00,959.90 C122.00,962.40 122.50,964.40 122.50,966.90 L122.50,975.65 L143.00,975.65L143.00,974.65 C142.00,973.40 141.40,972.40 141.75,971.40 C142.00,969.40 143.30,966.40 144.50,963.90 C145.60,961.70 146.60,960.40 147.50,958.40 C148.60,955.90 149.30,954.40 149.50,952.90 C150.00,950.40 150.10,948.90 150.00,946.90 C149.90,944.40 149.90,942.40 149.50,940.90 C148.90,938.90 148.00,937.80 147.00,937.40 C146.00,936.90 145.30,936.80 144.00,936.90 L143.75,934.40 C143.50,933.10 143.20,932.50 142.50,932.15 C141.60,931.50 140.90,931.40 140.00,931.40 C139.00,931.50 138.20,931.90 137.30,932.50 L137.00,931.90 C136.90,930.60 136.70,929.80 136.25,929.40 C135.40,928.70 134.20,928.40 133.00,928.40 C132.00,928.40 131.20,928.50 130.50,928.65 C129.60,929.20 129.00,929.90 128.50,930.90 L125.25,936.40 L125.00,921.90 L123.90,905.50 Z" stroke-width="0" stroke="none" fill="#fff"/>
<path d="M117.50,905.50 L117.25,921.90 L117.00,928.40 C116.60,932.90 116.20,935.90 116.25,939.90 C116.20,943.90 116.40,948.40 117.75,952.90 C118.80,955.90 120.20,957.90 121.00,959.90 C122.00,962.40 122.50,964.40 122.50,966.90 L122.50,975.65" stroke-width="0.95" stroke="#2c2c2c"/>
<path d="M143.00,974.65 C142.00,973.40 141.40,972.40 141.75,971.40 C142.00,969.40 143.30,966.40 144.50,963.90 C145.60,961.70 146.60,960.40 147.50,958.40 C148.60,955.90 149.30,954.40 149.50,952.90 C150.00,950.40 150.10,948.90 150.00,946.90 C149.90,944.40 149.90,942.40 149.50,940.90 C148.90,938.90 148.00,937.80 147.00,937.40 C146.00,936.90 145.30,936.80 144.00,936.90 L143.75,934.40 C143.50,933.10 143.20,932.50 142.50,932.15 C141.60,931.50 140.90,931.40 140.00,931.40 C139.00,931.50 138.20,931.90 137.30,932.50 L137.00,931.90 C136.90,930.60 136.70,929.80 136.25,929.40 C135.40,928.70 134.20,928.40 133.00,928.40 C132.00,928.40 131.20,928.50 130.50,928.65 C129.60,929.20 129.00,929.90 128.50,930.90 L125.25,936.40 L125.00,921.90 L123.90,905.50" stroke-width="0.95" stroke="#2c2c2c"/>
<path d="M137.30,932.50 Q136.30,935.40 135.25,938.65" stroke="#222"/>
<path d="M143.90,936.40 Q143.60,939.40 142.50,941.90" stroke="#222"/>
<line x1="119.30" y1="911.50" x2="122.40" y2="910.50" stroke-width="0.9" stroke="#333"/>
<line x1="119.50" y1="922.10" x2="122.50" y2="922.10" stroke="#333"/>
<line x1="119.50" y1="924.90" x2="122.50" y2="924.90" stroke="#333"/>
<circle cx="117.00" cy="924.20" r="0.80" stroke-width="0.4" fill="#111" stroke="#111"/>
<circle cx="120.25" cy="902.90" r="2.90" stroke-width="1.3" fill="#fff" stroke="#1c1c1c"/>
<path d="M198.1,930.6 C200.0,924.2 200.8,916.0 200.2,911.3 C199.4,905.6 195.8,896.0 192.5,889.6 L197.5,887.5 L178.8,879.2 L187.9,897.5 L189.2,892.9 C192.0,898.0 195.6,907.6 196.3,912.9 C196.8,917.6 195.2,926.2 192.5,931.0 A2.9,3.3 0 0 0 198.1,930.6 Z"/>
</g>
<g id="tools">
<path d="M958.3,231.0 L923.0,231.0 Q917.0,232.0 917.0,237.8 Q917.0,243.6 923.0,244.6 L958.3,244.6" stroke-width="1.5" stroke="#111" fill="#fff"/>
<line x1="918.00" y1="237.80" x2="958.00" y2="237.80" stroke-width="1.7" stroke="#111"/>
<line x1="922.90" y1="231.60" x2="921.60" y2="237.40" stroke-width="2.0" stroke="#1a1a1a"/>
<line x1="921.60" y1="238.20" x2="922.90" y2="244.00" stroke-width="2.0" stroke="#1a1a1a"/>
<line x1="927.60" y1="231.60" x2="926.30" y2="237.40" stroke-width="2.0" stroke="#1a1a1a"/>
<line x1="926.30" y1="238.20" x2="927.60" y2="244.00" stroke-width="2.0" stroke="#1a1a1a"/>
<line x1="932.30" y1="231.60" x2="931.00" y2="237.40" stroke-width="2.0" stroke="#1a1a1a"/>
<line x1="931.00" y1="238.20" x2="932.30" y2="244.00" stroke-width="2.0" stroke="#1a1a1a"/>
<line x1="937.00" y1="231.60" x2="935.70" y2="237.40" stroke-width="2.0" stroke="#1a1a1a"/>
<line x1="935.70" y1="238.20" x2="937.00" y2="244.00" stroke-width="2.0" stroke="#1a1a1a"/>
<line x1="941.70" y1="231.60" x2="940.40" y2="237.40" stroke-width="2.0" stroke="#1a1a1a"/>
<line x1="940.40" y1="238.20" x2="941.70" y2="244.00" stroke-width="2.0" stroke="#1a1a1a"/>
<line x1="946.40" y1="231.60" x2="945.10" y2="237.40" stroke-width="2.0" stroke="#1a1a1a"/>
<line x1="945.10" y1="238.20" x2="946.40" y2="244.00" stroke-width="2.0" stroke="#1a1a1a"/>
<line x1="951.10" y1="231.60" x2="949.80" y2="237.40" stroke-width="2.0" stroke="#1a1a1a"/>
<line x1="949.80" y1="238.20" x2="951.10" y2="244.00" stroke-width="2.0" stroke="#1a1a1a"/>
<line x1="955.80" y1="231.60" x2="954.50" y2="237.40" stroke-width="2.0" stroke="#1a1a1a"/>
<line x1="954.50" y1="238.20" x2="955.80" y2="244.00" stroke-width="2.0" stroke="#1a1a1a"/>
<polygon points="949.00,231.20 958.60,227.30 959.70,231.40" stroke="#111" fill="#1a1a1a"/>
<polygon points="951.60,244.50 958.60,248.00 959.70,244.40" stroke="#111" fill="#1a1a1a"/>
<rect x="960.20" y="230.80" width="17.20" height="14.00" stroke-width="0.8" fill="#1a1a1a" stroke="#111"/>
<rect x="961.40" y="232.00" width="4.00" height="1.50" stroke-width="0" fill="#eee"/>
<rect x="961.40" y="234.20" width="10.60" height="1.20" stroke-width="0" fill="#ccc"/>
<rect x="961.40" y="236.60" width="2.40" height="2.40" stroke-width="0" fill="#ddd"/>
<rect x="965.00" y="237.20" width="1.00" height="1.20" stroke-width="0" fill="#bbb"/>
<rect x="967.40" y="237.20" width="1.00" height="1.20" stroke-width="0" fill="#bbb"/>
<rect x="961.40" y="241.60" width="4.00" height="1.60" stroke-width="0" fill="#eee"/>
<rect x="973.60" y="234.40" width="3.30" height="6.80" stroke-width="0" fill="#fff"/>
<rect x="977.20" y="229.00" width="2.70" height="16.60" stroke-width="0.6" fill="#1a1a1a" stroke="#111"/>
<g transform="translate(915.3,268.2) rotate(7.3)">
<path d="M0,0 L4.5,-3.2 L69,-3.3 L69,3.3 L4.5,3.2 Z" stroke="#111" fill="#2a2a2a"/>
<path d="M4.00,-1.7 l1.4,3.4" stroke-width="0.7" stroke="#d8d8d8"/>
<path d="M7.90,-1.7 l1.4,3.4" stroke-width="0.7" stroke="#d8d8d8"/>
<path d="M11.80,-1.7 l1.4,3.4" stroke-width="0.7" stroke="#d8d8d8"/>
<path d="M15.70,-1.7 l1.4,3.4" stroke-width="0.7" stroke="#d8d8d8"/>
<path d="M19.60,-1.7 l1.4,3.4" stroke-width="0.7" stroke="#d8d8d8"/>
<path d="M23.50,-1.7 l1.4,3.4" stroke-width="0.7" stroke="#d8d8d8"/>
<path d="M27.40,-1.7 l1.4,3.4" stroke-width="0.7" stroke="#d8d8d8"/>
<path d="M31.30,-1.7 l1.4,3.4" stroke-width="0.7" stroke="#d8d8d8"/>
<path d="M35.20,-1.7 l1.4,3.4" stroke-width="0.7" stroke="#d8d8d8"/>
<path d="M39.10,-1.7 l1.4,3.4" stroke-width="0.7" stroke="#d8d8d8"/>
<path d="M43.00,-1.7 l1.4,3.4" stroke-width="0.7" stroke="#d8d8d8"/>
<path d="M46.90,-1.7 l1.4,3.4" stroke-width="0.7" stroke="#d8d8d8"/>
<path d="M50.80,-1.7 l1.4,3.4" stroke-width="0.7" stroke="#d8d8d8"/>
<path d="M54.70,-1.7 l1.4,3.4" stroke-width="0.7" stroke="#d8d8d8"/>
<path d="M58.60,-1.7 l1.4,3.4" stroke-width="0.7" stroke="#d8d8d8"/>
<path d="M62.50,-1.7 l1.4,3.4" stroke-width="0.7" stroke="#d8d8d8"/>
<path d="M66.40,-1.7 l1.4,3.4" stroke-width="0.7" stroke="#d8d8d8"/>
<ellipse cx="71.20" cy="0.00" rx="1.70" ry="3.10" stroke-width="1.1" fill="#fff" stroke="#111"/>
</g>
<line x1="1023.33" y1="243.87" x2="1030.33" y2="246.13" stroke-width="3.0" stroke="#1a1a1a"/>
<line x1="1030.33" y1="246.13" x2="1039.20" y2="247.73" stroke-width="1.3" stroke="#1a1a1a"/>
<path d="M1039.47,248.00 Q1039.20,242.67 1050.67,241.00" stroke-width="1.35" stroke="#151515"/>
<path d="M1039.47,248.00 Q1039.47,255.00 1047.33,259.67" stroke-width="1.35" stroke="#151515"/>
<path d="M1046.00,244.00 Q1041.33,251.67 1046.00,259.00" stroke-width="1.35" stroke="#151515"/>
<polyline points="1050.67,241.00 1058.33,244.33" stroke-width="1.35" stroke="#151515"/>
<polyline points="1047.33,259.67 1056.33,261.67" stroke-width="1.35" stroke="#151515"/>
<path d="M1058.33,244.33 Q1052.67,252.67 1056.33,261.67" stroke-width="1.35" stroke="#151515"/>
<polyline points="1058.33,244.33 1061.67,242.33" stroke-width="1.35" stroke="#151515"/>
<polyline points="1056.33,261.67 1063.67,264.80" stroke-width="1.35" stroke="#151515"/>
<path d="M1061.67,242.33 Q1064.67,243.33 1064.00,248.33" stroke-width="1.35" stroke="#151515"/>
<polyline points="1064.00,248.33 1063.67,264.80" stroke-width="1.35" stroke="#151515"/>
<polyline points="1061.67,242.33 1104.67,253.20" stroke-width="1.35" stroke="#151515"/>
<polyline points="1064.00,248.33 1066.00,247.00 1102.67,255.67" stroke-width="1.35" stroke="#151515"/>
<polyline points="1064.67,254.33 1099.33,263.33" stroke-width="1.35" stroke="#151515"/>
<polyline points="1064.67,264.67 1090.00,272.00 1098.67,273.33 1102.67,274.67" stroke-width="1.35" stroke="#151515"/>
<polyline points="1066.00,266.67 1090.00,274.67" stroke-width="1.35" stroke="#151515"/>
<polyline points="1073.33,244.33 1076.33,243.00 1114.67,253.33" stroke-width="1.35" stroke="#151515"/>
<polyline points="1073.33,244.33 1078.00,245.33" stroke="#151515"/>
<polyline points="1102.67,255.67 1114.67,253.33" stroke-width="1.35" stroke="#151515"/>
<polyline points="1114.67,253.33 1113.33,258.67 1117.33,269.33 1117.67,290.00" stroke-width="1.35" stroke="#151515"/>
<polyline points="1102.67,256.00 1099.33,263.33 1098.67,272.00" stroke-width="1.35" stroke="#151515"/>
<polyline points="1102.67,267.33 1113.33,264.33" stroke-width="1.35" stroke="#151515"/>
<polyline points="1104.67,274.00 1115.33,270.67" stroke-width="1.35" stroke="#151515"/>
<polyline points="1100.00,264.00 1114.00,292.00" stroke-width="1.35" stroke="#151515"/>
<polyline points="1115.33,275.33 1115.67,289.33" stroke="#151515"/>
<polyline points="1090.00,272.00 1091.33,289.33 1094.67,291.00" stroke-width="1.35" stroke="#151515"/>
<polyline points="1093.33,280.67 1102.67,283.33 1106.00,281.33" stroke-width="1.35" stroke="#151515"/>
<polyline points="1098.67,273.33 1102.67,283.33" stroke-width="1.35" stroke="#151515"/>
<polyline points="1094.67,286.67 1110.67,287.33" stroke-width="1.35" stroke="#151515"/>
<polyline points="1094.00,282.67 1094.67,291.00" stroke-width="1.35" stroke="#151515"/>
<polyline points="1091.33,282.00 1091.33,288.67 1094.67,286.00 1110.67,287.33" stroke-width="1.35" stroke="#151515"/>
<polyline points="1093.33,288.67 1104.00,320.67" stroke-width="1.8" stroke="#151515"/>
<polyline points="1106.67,289.33 1110.67,322.67" stroke-width="1.35" stroke="#151515"/>
<polyline points="1110.67,286.67 1121.33,325.33" stroke-width="1.35" stroke="#151515"/>
<polyline points="1116.67,288.67 1124.00,323.33" stroke-width="1.8" stroke="#151515"/>
<polyline points="1114.67,282.00 1116.67,288.67" stroke-width="1.35" stroke="#151515"/>
<polyline points="1088.67,324.67 1090.67,322.00 1099.33,319.33 1104.00,320.67" stroke-width="1.35" stroke="#151515"/>
<polyline points="1088.67,324.67 1111.33,329.47 1118.00,326.33 1121.33,325.33" stroke-width="1.35" stroke="#151515"/>
<polyline points="1124.00,323.33 1128.33,323.33 1128.33,352.00 1111.33,356.67 1088.67,351.33 1088.67,324.67" stroke-width="1.6" stroke="#151515"/>
<polyline points="1090.67,323.00 1112.00,327.33 1117.33,324.67" stroke="#151515"/>
<polyline points="1110.13,329.47 1110.13,356.13" stroke-width="1.35" stroke="#151515"/>
<polyline points="1112.67,329.00 1112.67,356.13" stroke-width="1.35" stroke="#151515"/>
<polyline points="1121.33,325.33 1124.00,326.67 1128.33,324.67" stroke="#151515"/>
</g>
</svg>
</body>
</html>
